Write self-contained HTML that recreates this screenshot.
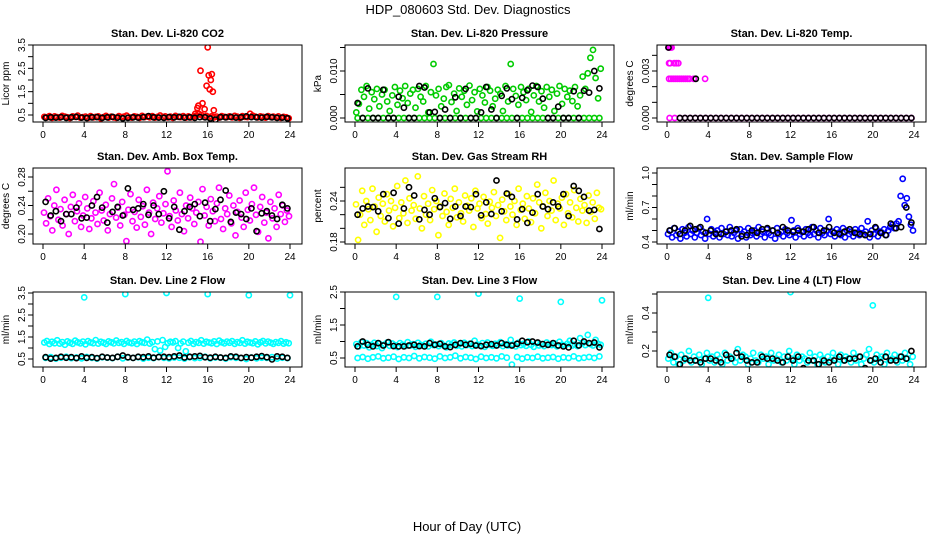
<!DOCTYPE html>
<html><head><meta charset="utf-8"><style>
html,body{margin:0;padding:0;background:#fff;}
svg{display:block;font-family:"Liberation Sans",sans-serif;}
</style></head><body>
<svg id="chart" width="936" height="540" viewBox="0 0 936 540">
<text x="468" y="14" font-size="13" text-anchor="middle">HDP_080603 Std. Dev. Diagnostics</text>
<text x="467" y="531" font-size="13" text-anchor="middle">Hour of Day (UTC)</text>
</svg>
<script>
const xTicks=[0,4,8,12,16,20,24];
const co2Red=[.42,.40,.45,.38,.44,.41,.39,.46,.43,.40,.37,.44,.42,.47,.39,.41,.43,.38,.45,.40,.42,.44,.36,.41,.46,.39,.43,.40,.38,.45,.41,.43,.47,.40,.39,.44,.42,.38,.46,.41,.43,.40,.45,.39,.42,.48,.41,.44,.40,.43,.38,.46,.42,.41,.45,.39,.44,.40,.43,.47,.55,.50,.42,.46,.41,.44,.40,.43,.39,.45,.42,.41,.44,.40,.46,.43,.38,.45,.42,.41,.55,.47,.43,.40,.44,.42,.39,.45,.41,.43,.40,.44,.38,.42,.40,.36];
const co2SpikeHours=[14.8,15.0,15.1,15.3,15.5,15.7,15.9,16.0,16.1,16.2,16.3,16.5,16.6,16.4];
const co2SpikeVals=[0.55,0.8,0.9,2.4,1.0,0.75,1.75,3.4,2.2,1.6,2.0,1.5,0.7,2.25];
const co2Black=[.38,.40,.39,.41,.38,.40,.42,.39,.37,.40,.41,.38,.40,.42,.39,.36,.38,.40,.39,.41,.45,.40,.39,.38,.41,.40,.42,.39,.40,.38,.41,.40,.35,.30,.41,.40,.42,.39,.40,.44,.41,.40,.39,.42,.40,.38,.39,.36];
const presGreen=[.0012,.003,.006,.0045,.0068,.002,.0055,.004,.0062,.0025,.005,.006,.0035,.0015,.0048,.0066,.0028,.0058,.0042,.0068,.0032,.0052,.006,.0022,.0062,.0045,.0035,.0068,.0012,.0055,.0115,.0048,.0062,.0025,.0041,.0066,.007,.0034,.0052,.0015,.0063,.0045,.0058,.0028,.0069,.0038,.0055,.0014,.0062,.0048,.0033,.0066,.0058,.0025,.0041,.006,.0052,.0015,.0068,.0035,.0115,.0062,.0047,.0028,.0066,.0055,.0038,.0062,.0013,.0048,.0068,.0035,.0057,.0022,.0066,.0045,.006,.0015,.0052,.0068,.003,.0062,.0045,.0058,.0036,.0066,.0025,.0048,.0088,.0062,.0095,.0128,.0145,.0085,.0042,.0105];
const presGreenZero=[0,0,0,0,0,0,0,0,0,0,0,0,0,0,0,0,0,0,0,0,0,0,0,0,0,0,0,0,0,0,0,0,0,0,0,0,0,0,0,0,0,0,0,0,0,0,0,0];
const presBlack=[.0032,0,.0063,0,0,.006,0,0,.0045,.0022,0,0,.0068,.0065,.0012,.0013,0,.0018,0,.0044,0,.0062,0,0,.0012,.0066,.0018,0,.0047,.0063,.004,0,.0043,.0059,.0069,.0066,.0041,0,0,.0024,0,0,.0057,0,.0058,.0054,.01,.0063];
const tempPink=[0,0,0,0,0,0,0,0,0,0,0,0,0,0,0,0,0,0,0,0,0,0,0,0,0,0,0,0,0,0,0,0,0,0,0,0,0,0,0,0,0,0,0,0,0,0,0,0];
const tempPinkHours=[0.15,0.25,0.35,0.45,0.2,0.3,0.7,0.9,1.1,0.2,0.4,0.6,0.8,1.0,1.2,1.4,1.6,1.8,2.0,2.2,2.6,3.7];
const tempPinkVals=[.0045,.0045,.0045,.0045,.0035,.0035,.0035,.0035,.0035,.0025,.0025,.0025,.0025,.0025,.0025,.0025,.0025,.0025,.0025,.0025,.0025,.0025];
const tempBlack=[0,0,0,0,0,0,0,0,0,0,0,0,0,0,0,0,0,0,0,0,0,0,0,0,0,0,0,0,0,0,0,0,0,0,0,0,0,0,0,0,0,0,0,0,0,0];
const tempBlackHours=[0.15,2.8];
const tempBlackVals=[.0045,.0025];
const ambPink=[.230,.215,.250,.225,.205,.240,.262,.220,.235,.212,.248,.228,.200,.238,.255,.218,.232,.243,.210,.226,.252,.236,.207,.222,.246,.230,.214,.258,.233,.219,.241,.205,.228,.250,.270,.223,.237,.212,.245,.227,.190,.234,.256,.218,.231,.209,.248,.224,.239,.213,.262,.230,.200,.244,.221,.236,.253,.216,.229,.242,.288,.225,.210,.247,.233,.219,.258,.228,.204,.240,.222,.251,.236,.214,.230,.245,.189,.263,.226,.238,.212,.249,.232,.218,.243,.265,.221,.207,.236,.228,.254,.215,.240,.198,.231,.247,.223,.210,.258,.234,.219,.242,.265,.227,.203,.238,.252,.216,.230,.194,.245,.222,.236,.210,.255,.228,.240,.217,.233,.225];
const ambBlack=[.245,.226,.232,.218,.228,.228,.237,.222,.223,.240,.252,.237,.216,.231,.238,.226,.264,.234,.236,.242,.227,.240,.228,.260,.222,.238,.206,.232,.238,.242,.225,.244,.218,.235,.248,.261,.217,.230,.228,.221,.236,.204,.229,.232,.226,.221,.241,.236];
const rhYellow=[.235,.183,.220,.255,.205,.240,.228,.212,.258,.232,.195,.245,.218,.236,.210,.250,.226,.240,.203,.230,.262,.215,.238,.222,.270,.208,.244,.226,.234,.214,.276,.229,.200,.247,.220,.236,.212,.256,.228,.240,.190,.232,.218,.251,.224,.205,.243,.230,.258,.216,.238,.222,.210,.248,.233,.226,.244,.202,.255,.229,.236,.215,.246,.221,.207,.239,.230,.253,.218,.234,.186,.242,.225,.212,.250,.232,.220,.240,.205,.258,.227,.236,.214,.247,.229,.209,.244,.222,.264,.238,.200,.232,.252,.218,.240,.226,.270,.212,.236,.229,.245,.205,.250,.222,.238,.216,.256,.230,.210,.243,.226,.234,.208,.248,.224,.238,.214,.252,.230,.228];
const rhBlack=[.220,.229,.232,.231,.225,.250,.215,.252,.207,.229,.260,.248,.213,.227,.220,.244,.231,.237,.214,.232,.218,.232,.231,.250,.219,.238,.221,.270,.225,.251,.246,.213,.228,.208,.223,.250,.232,.228,.238,.232,.250,.218,.262,.255,.246,.226,.227,.199];
const flowBlue=[.47,.50,.44,.52,.46,.49,.43,.51,.48,.45,.53,.47,.50,.44,.48,.52,.46,.49,.43,.60,.47,.51,.45,.48,.50,.44,.52,.47,.49,.46,.53,.45,.48,.50,.43,.51,.47,.49,.44,.52,.46,.48,.50,.45,.53,.47,.49,.44,.51,.48,.46,.50,.43,.52,.47,.49,.45,.51,.48,.46,.59,.50,.44,.52,.47,.49,.45,.51,.48,.46,.53,.47,.50,.44,.52,.48,.46,.50,.60,.47,.49,.45,.51,.48,.46,.52,.44,.50,.47,.49,.45,.51,.48,.46,.52,.47,.49,.58,.44,.50,.47,.52,.45,.49,.48,.51,.46,.50,.53,.55,.52,.56,.58,.80,.95,.72,.78,.62,.55,.50];
const flowBlack=[.50,.52,.47,.50,.54,.51,.53,.48,.50,.47,.47,.49,.50,.51,.45,.46,.50,.48,.51,.52,.50,.48,.53,.50,.49,.50,.49,.51,.53,.48,.50,.53,.48,.47,.49,.51,.48,.47,.46,.47,.53,.48,.46,.56,.52,.53,.70,.57];
const l2High=[1.25,1.32,1.18,1.28,1.22,1.35,1.20,1.27,1.15,1.30,1.24,1.19,1.33,1.26,1.21,1.29,1.17,1.31,1.25,1.22,1.36,1.20,1.28,1.24,1.18,1.30,1.26,1.21,1.34,1.23,1.27,1.19,1.32,1.25,1.22,1.29,1.18,1.31,1.26,1.23,1.38,1.20,1.27,0.95,1.30,0.88,1.36,1.05,1.22,1.28,1.25,1.31,1.00,1.21,1.29,0.85,1.24,1.32,1.19,1.27,1.23,1.35,1.20,1.28,1.25,1.22,1.30,1.18,1.33,1.26,1.21,1.29,1.24,1.31,1.19,1.27,1.23,1.35,1.20,1.28,1.25,1.22,1.30,1.17,1.26,1.32,1.21,1.29,1.24,1.19,1.27,1.23,1.31,1.20,1.26,1.22];
const l2Low=[.55,.58,.52,.56,.60,.54,.57,.53,.59,.55,.52,.58,.56,.54,.60,.53,.57,.55,.58,.52,.56,.54,.59,.55,.53,.57,.56,.52,.58,.54,.55,.60,.53,.57,.56,.52,.58,.55,.54,.50,.57,.53,.56,.55,.58,.52,.56,.54];
const l2Black=[.58,.52,.55,.60,.56,.58,.54,.62,.55,.58,.54,.60,.57,.55,.60,.66,.58,.55,.60,.58,.62,.56,.59,.60,.58,.62,.66,.57,.60,.62,.64,.58,.56,.60,.57,.55,.62,.60,.55,.58,.56,.60,.63,.58,.48,.62,.60,.55];
const l2OutHours=[4,8,12,16,20,24];
const l2OutVals=[3.3,3.45,3.5,3.45,3.4,3.4];
const l3High=[.92,.85,.98,.88,.95,.82,.90,.96,.86,.93,.80,.91,.97,.87,.94,.89,.83,.95,.90,.86,.98,.88,.92,.84,.96,.90,.87,.93,.85,.99,.89,.91,.86,.95,.88,.82,.94,.90,.97,.87,.92,.85,.96,.89,.93,.86,1.02,.91,.88,.95,.84,.97,.90,.87,.93,.89,.98,.86,.92,.88,1.05,.91,.85,.96,.89,.93,.87,1.00,.90,.84,.95,.88,.92,.86,.97,.91,.89,.94,.85,.99,.90,.87,.93,1.02,.88,.91,.86,1.10,.95,.89,1.20,.92,.88,1.05,.93,.90];
const l3Low=[.50,.53,.48,.52,.55,.49,.51,.54,.47,.52,.50,.56,.49,.53,.51,.48,.55,.50,.52,.57,.49,.53,.51,.47,.54,.50,.52,.49,.55,.51,.30,.53,.48,.52,.50,.54,.49,.51,.53,.48,.52,.50,.55,.49,.51,.53,.50,.55];
const l3Black=[.85,1.00,.90,.85,.95,.88,.98,.86,.85,.85,.88,.90,.86,.85,.95,.90,.93,.85,.83,.90,.95,.90,.93,.88,.86,.90,.92,.88,.95,.90,.88,.93,1.02,.98,1.00,.97,.92,.90,.95,.88,.85,.82,1.02,.88,1.00,.95,.97,.82];
const l3OutHours=[4,8,12,16,20,24];
const l3OutVals=[2.35,2.35,2.45,2.3,2.2,2.25];
const l4Cyan=[.16,.19,.14,.17,.13,.18,.15,.16,.20,.14,.17,.15,.18,.13,.16,.19,.15,.17,.14,.18,.16,.13,.19,.15,.17,.16,.14,.21,.15,.18,.17,.13,.16,.19,.15,.14,.18,.16,.17,.13,.19,.15,.16,.18,.14,.17,.15,.20,.16,.13,.18,.15,.17,.16,.14,.19,.15,.17,.13,.18,.16,.14,.17,.15,.19,.16,.13,.18,.15,.17,.16,.14,.19,.15,.17,.13,.16,.18,.21,.15,.14,.18,.16,.17,.13,.19,.15,.16,.18,.14,.17,.15,.19,.16,.13,.17];
const l4Black=[.18,.17,.13,.16,.15,.15,.14,.16,.16,.15,.14,.18,.16,.19,.17,.15,.14,.14,.17,.16,.16,.15,.14,.17,.15,.17,.11,.15,.15,.13,.15,.14,.15,.17,.15,.16,.16,.17,.11,.15,.16,.14,.17,.15,.15,.17,.16,.20];
const l4OutHours=[4,12,20];
const l4OutVals=[.48,.51,.44];

const NS="http://www.w3.org/2000/svg";
const svg=document.getElementById('chart');
function el(tag,attrs,parent){const e=document.createElementNS(NS,tag);for(const k in attrs)e.setAttribute(k,attrs[k]);(parent||svg).appendChild(e);return e;}
const colX0=[43,355,667];
const rowBox=[[45,122],[168,244],[292,367]];
const pxPerHour=247/24;

const panels=[
 {name:'co2',title:'Stan. Dev. Li-820 CO2',ylab:'Licor ppm',col:0,row:0,v0:0.5,y0:115,v1:3.5,y1:45,ticks:[0.5,1,1.5,2,2.5,3,3.5],labels:['0.5','1.5','2.5','3.5'],
  series:[{c:'#ff0000',v:co2Red},{c:'#ff0000',h:co2SpikeHours,v:co2SpikeVals},{c:'#000',v:co2Black}]},
 {name:'pressure',title:'Stan. Dev. Li-820 Pressure',ylab:'kPa',col:1,row:0,v0:0,y0:118,v1:0.01,y1:71,ticks:[0,0.005,0.01,0.015],labels:['0.000','0.010'],
  series:[{c:'#00cc00',v:presGreenZero},{c:'#00cc00',v:presGreen},{c:'#000',v:presBlack}]},
 {name:'temp',title:'Stan. Dev. Li-820 Temp.',ylab:'degrees C',col:2,row:0,v0:0,y0:118,v1:0.003,y1:71,ticks:[0,0.001,0.002,0.003,0.004],labels:['0.000','0.003'],
  series:[{c:'#ff00ff',v:tempPink},{c:'#ff00ff',h:tempPinkHours,v:tempPinkVals},{c:'#000',v:tempBlack,start:1},{c:'#000',h:tempBlackHours,v:tempBlackVals}]},
 {name:'amb-box-temp',title:'Stan. Dev. Amb. Box Temp.',ylab:'degrees C',col:0,row:1,v0:0.20,y0:234,v1:0.28,y1:177,ticks:[0.2,0.22,0.24,0.26,0.28],labels:['0.20','0.24','0.28'],
  series:[{c:'#ff00ff',v:ambPink},{c:'#000',v:ambBlack}]},
 {name:'gas-rh',title:'Stan. Dev. Gas Stream RH',ylab:'percent',col:1,row:1,v0:0.18,y0:242,v1:0.24,y1:201,ticks:[0.18,0.2,0.22,0.24,0.26],labels:['0.18','0.24'],
  series:[{c:'#ffff00',v:rhYellow},{c:'#000',v:rhBlack}]},
 {name:'sample-flow',title:'Stan. Dev. Sample Flow',ylab:'ml/min',col:2,row:1,v0:0.4,y0:242,v1:1.0,y1:173,ticks:[0.4,0.5,0.6,0.7,0.8,0.9,1.0],labels:['0.4','0.7','1.0'],
  series:[{c:'#0000ff',v:flowBlue},{c:'#000',v:flowBlack}]},
 {name:'line2-flow',title:'Stan. Dev. Line 2 Flow',ylab:'ml/min',col:0,row:2,v0:0.5,y0:359,v1:3.5,y1:293,ticks:[0.5,1,1.5,2,2.5,3,3.5],labels:['0.5','1.5','2.5','3.5'],
  series:[{c:'#00ffff',v:l2High},{c:'#00ffff',v:l2Low},{c:'#00ffff',h:l2OutHours,v:l2OutVals},{c:'#000',v:l2Black}]},
 {name:'line3-flow',title:'Stan. Dev. Line 3 Flow',ylab:'ml/min',col:1,row:2,v0:0.5,y0:358,v1:2.5,y1:292,ticks:[0.5,1,1.5,2,2.5],labels:['0.5','1.5','2.5'],
  series:[{c:'#00ffff',v:l3High},{c:'#00ffff',v:l3Low},{c:'#00ffff',h:l3OutHours,v:l3OutVals},{c:'#000',v:l3Black}]},
 {name:'line4-flow',title:'Stan. Dev. Line 4 (LT) Flow',ylab:'ml/min',col:2,row:2,v0:0.2,y0:351,v1:0.4,y1:313,ticks:[0.2,0.3,0.4,0.5],labels:['0.2','0.4'],
  series:[{c:'#00ffff',v:l4Cyan},{c:'#00ffff',h:l4OutHours,v:l4OutVals},{c:'#000',v:l4Black}]}
];

panels.forEach(p=>{
  const x0=colX0[p.col];
  const [top,bot]=rowBox[p.row];
  const left=x0-10,right=x0+259;
  const xs=h=>x0+h*pxPerHour;
  const ys=v=>p.y0+(v-p.v0)*(p.y1-p.y0)/(p.v1-p.v0);
  const g=el('g',{});
  
  
  const t=el('text',{x:(left+right)/2,y:top-8,'font-size':11,'font-weight':'bold','text-anchor':'middle'},g);
  t.textContent=p.title;
  
  
  const yl=el('text',{x:0,y:0,'font-size':10,'text-anchor':'middle',transform:`translate(${left-24},${(top+bot)/2}) rotate(-90)`},g);
  yl.textContent=p.ylab;
  
  
  const clip=el('clipPath',{id:'clip-'+p.name},g);
  el('rect',{x:left,y:top,width:right-left,height:bot-top},clip);
  const marks=el('g',{'clip-path':`url(#clip-${p.name})`},g);
  
  
  p.series.forEach(s=>{
    const n=s.v.length;
    s.v.forEach((v,i)=>{
      let h;
      if(s.h) h=s.h[i];
      else { const st=s.start||0; h=st+(i+0.5)*(24-st)/n; }
      const c=el('circle',{cx:xs(h).toFixed(1),cy:ys(v).toFixed(1),r:2.6,fill:'none',stroke:s.c,'stroke-width':1.6},marks);
      
      
    });
  });
  const box=el('rect',{x:left,y:top,width:right-left,height:bot-top,fill:'none',stroke:'#000','stroke-width':1},g);
  
  
  xTicks.forEach(h=>{
    const x=xs(h);
    el('line',{x1:x,y1:bot,x2:x,y2:bot+5,stroke:'#000','stroke-width':1},g);
    const tl=el('text',{x:x,y:bot+16,'font-size':10,'text-anchor':'middle'},g);
    tl.textContent=h;
    
    
  });
  p.ticks.forEach(v=>{
    const y=ys(v);
    el('line',{x1:left-5,y1:y,x2:left,y2:y,stroke:'#000','stroke-width':1},g);
  });
  p.labels.forEach(lb=>{
    const y=ys(parseFloat(lb));
    const tl=el('text',{x:0,y:0,'font-size':10,'text-anchor':'middle',transform:`translate(${left-8},${y}) rotate(-90)`},g);
    tl.textContent=lb;
    
    
  });
});
</script>
</body></html>
